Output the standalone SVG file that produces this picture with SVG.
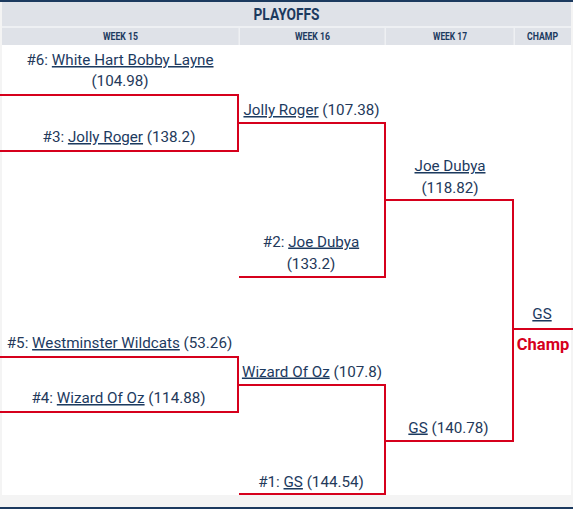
<svg xmlns="http://www.w3.org/2000/svg" width="573" height="509" viewBox="0 0 573 509">
<style>
.hdr{fill:#dfe2e8}
.ht{font-family:Roboto,"Liberation Sans",sans-serif;font-weight:bold;fill:#1c3a5f;text-anchor:middle}
.t{font-family:Roboto,"Liberation Sans",sans-serif;font-size:15.2px;fill:#24395a;text-anchor:middle}
.u{text-decoration:underline;fill:#1c3a5f}
.ln{fill:none;stroke:#d6001c;stroke-width:2}
.champ{font-family:Roboto,"Liberation Sans",sans-serif;font-size:16.5px;font-weight:bold;fill:#d6001c;text-anchor:middle}
</style>
<rect x="0" y="0" width="573" height="509" fill="#f4f4f4"/>
<rect x="0" y="0" width="573" height="2" fill="#1c3a5f"/>
<rect x="0" y="507" width="573" height="2" fill="#1c3a5f"/>
<rect x="2" y="45" width="569" height="450" fill="#ffffff"/>
<g id="header">
<rect x="2" y="2" width="569" height="43" fill="#eef0f3"/>
<rect class="hdr" x="2" y="2" width="569" height="24"/>
<rect class="hdr" x="2" y="28" width="236.5" height="17"/>
<rect class="hdr" x="240" y="28" width="144.5" height="17"/>
<rect class="hdr" x="386" y="28" width="127.5" height="17"/>
<rect class="hdr" x="515" y="28" width="56" height="17"/>
<text class="ht" x="286.5" y="20" font-size="16" textLength="66" lengthAdjust="spacingAndGlyphs">PLAYOFFS</text>
<text class="ht" x="120.5" y="39.5" font-size="10" textLength="35" lengthAdjust="spacingAndGlyphs">WEEK 15</text>
<text class="ht" x="312.5" y="39.5" font-size="10" textLength="35" lengthAdjust="spacingAndGlyphs">WEEK 16</text>
<text class="ht" x="450" y="39.5" font-size="10" textLength="34" lengthAdjust="spacingAndGlyphs">WEEK 17</text>
<text class="ht" x="542.5" y="39.5" font-size="10" textLength="31" lengthAdjust="spacingAndGlyphs">CHAMP</text>
</g>
<g id="connectors">
<path class="ln" d="M0 95H238V151H0"/>
<path class="ln" d="M238 123H385V277H239"/>
<path class="ln" d="M0 357H238V412H0"/>
<path class="ln" d="M238 385H385V494H239"/>
<path class="ln" d="M385 200H513V441H385"/>
<path class="ln" d="M513 329H573"/>
</g>
<g id="seed6">
<text class="t" x="120" y="65">#6: <tspan class="u">White Hart Bobby Layne</tspan></text>
<text class="t" x="120" y="86">(104.98)</text>
</g>
<g id="seed3">
<text class="t" x="119" y="142">#3: <tspan class="u">Jolly Roger</tspan> (138.2)</text>
</g>
<g id="seed5">
<text class="t" x="119.5" y="348">#5: <tspan class="u">Westminster Wildcats</tspan> (53.26)</text>
</g>
<g id="seed4">
<text class="t" x="118.5" y="403">#4: <tspan class="u">Wizard Of Oz</tspan> (114.88)</text>
</g>
<g id="r2-jolly">
<text class="t" x="311.5" y="115"><tspan class="u">Jolly Roger</tspan> (107.38)</text>
</g>
<g id="seed2">
<text class="t" x="311" y="246.5">#2: <tspan class="u">Joe Dubya</tspan></text>
<text class="t" x="311" y="269">(133.2)</text>
</g>
<g id="r2-wizard">
<text class="t" x="312" y="376.5"><tspan class="u">Wizard Of Oz</tspan> (107.8)</text>
</g>
<g id="seed1">
<text class="t" x="311" y="487">#1: <tspan class="u">GS</tspan> (144.54)</text>
</g>
<g id="r3-joe">
<text class="t" x="450" y="171"><tspan class="u">Joe Dubya</tspan></text>
<text class="t" x="450" y="193">(118.82)</text>
</g>
<g id="r3-gs">
<text class="t" x="448.5" y="432.5"><tspan class="u">GS</tspan> (140.78)</text>
</g>
<g id="champion">
<text class="t" x="542" y="319"><tspan class="u">GS</tspan></text>
<text class="champ" x="543" y="350">Champ</text>
</g>
</svg>
